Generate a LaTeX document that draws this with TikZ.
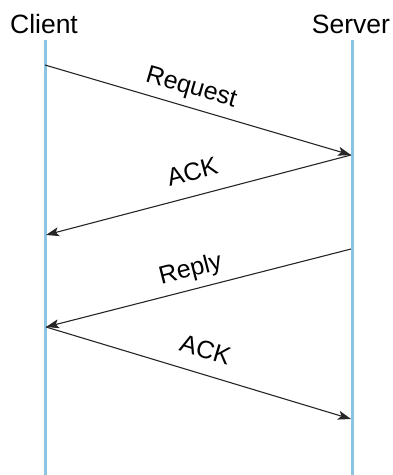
\documentclass[tikz,border=0pt]{standalone}
\usepackage{fontspec}
\setmainfont{Liberation Sans}
\usetikzlibrary{arrows.meta}
\begin{document}
\begin{tikzpicture}[x=1pt,y=-1pt,
  lifeline/.style={draw={rgb,255:red,140;green,196;blue,228}, line width=3pt},
  msg/.style={draw=black!85, line width=1.1pt, -{Stealth[length=13pt,width=9pt,inset=3pt]}},
  head/.style={font=\fontsize{26.5}{28}\selectfont, inner sep=0pt},
  lbl/.style={font=\fontsize{25}{27}\selectfont, inner sep=0pt, sloped, above=7pt}]
\useasboundingbox (0,0) rectangle (393,475);
\node[head] (client) at (44,24) {Client};
\node[head] (server) at (351,24) {Server};
\coordinate (ctop) at (45,40);
\coordinate (cbot) at (45,475);
\coordinate (stop) at (352,40);
\coordinate (sbot) at (352,475);
\draw[lifeline] (ctop) -- (cbot);
\draw[lifeline] (stop) -- (sbot);
\coordinate (c1) at (45,65);
\coordinate (s1) at (351,155);
\coordinate (c2) at (46,235);
\coordinate (s2) at (351,249);
\coordinate (c3) at (46,327);
\coordinate (s3) at (351,419);
\draw[msg] (c1) -- node[lbl, pos=0.46] {Request} (s1);
\draw[msg] (s1) -- node[lbl, pos=0.50, above=8pt] {ACK} (c2);
\draw[msg] (s2) -- node[lbl, pos=0.51] {Reply} (c3);
\draw[msg] (c3) -- node[lbl, pos=0.50, above=8pt] {ACK} (s3);
\end{tikzpicture}
\end{document}
